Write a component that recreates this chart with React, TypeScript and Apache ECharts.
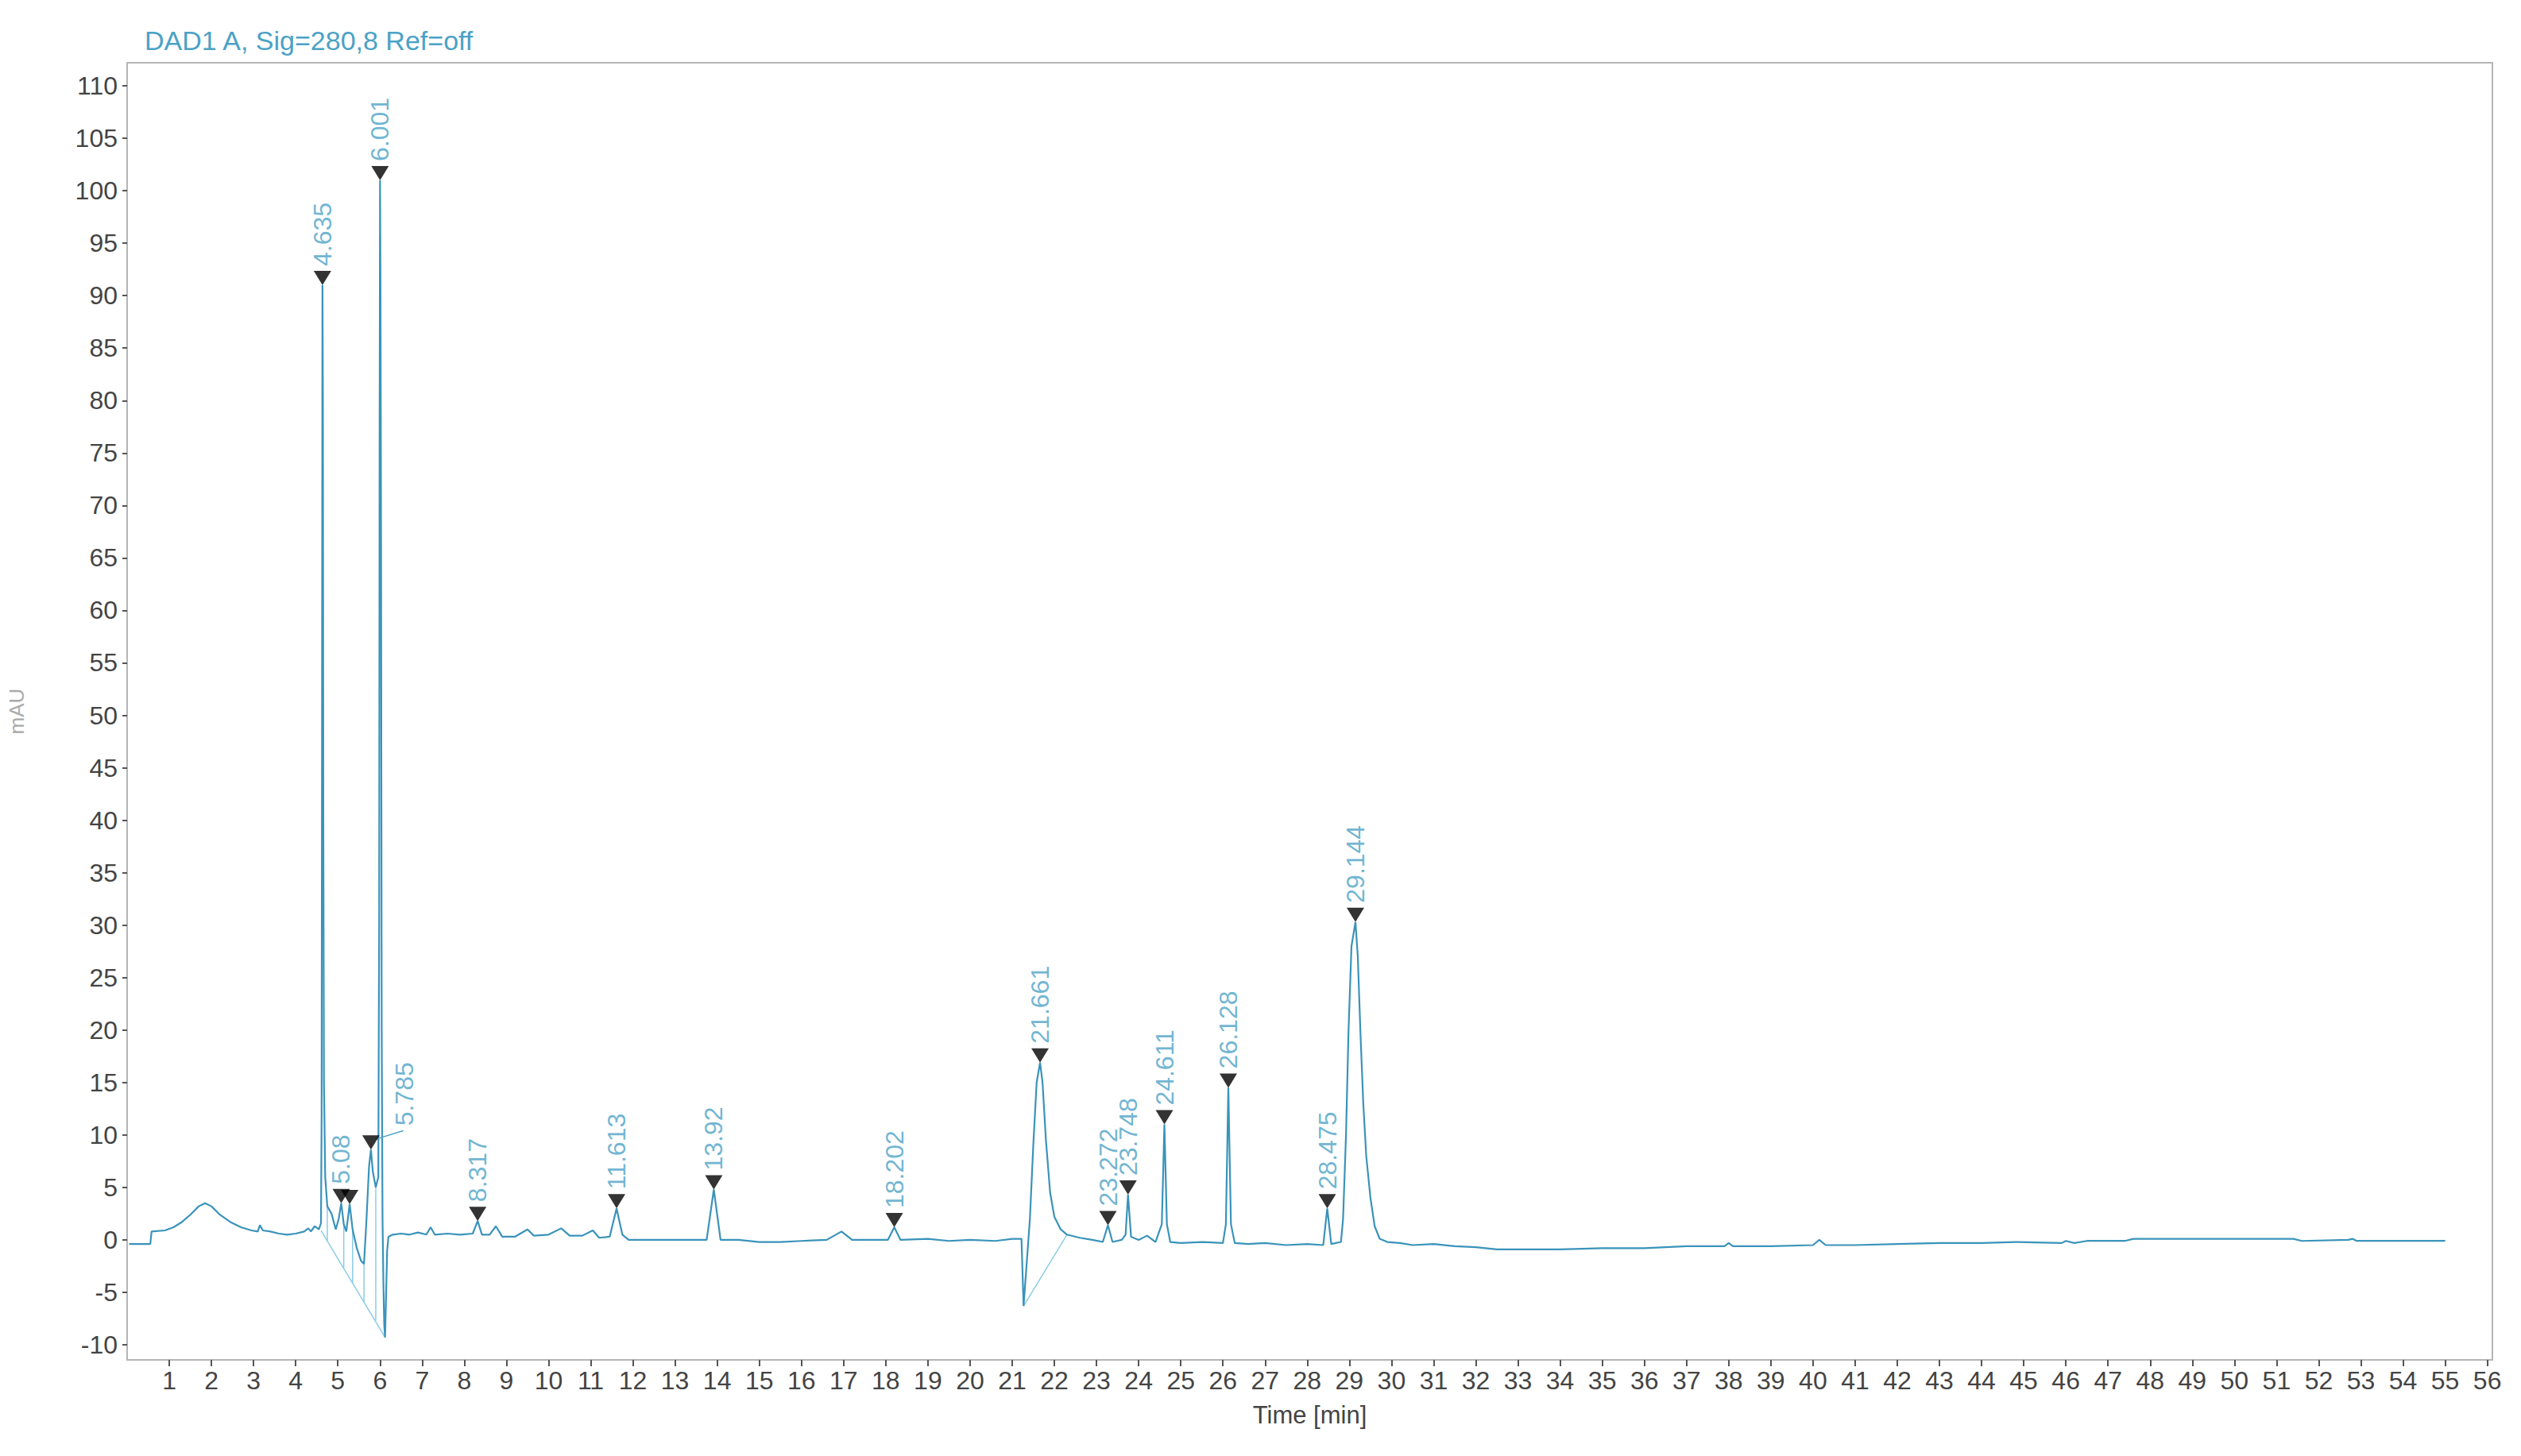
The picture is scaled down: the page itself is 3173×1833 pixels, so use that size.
import React, { useEffect, useRef } from "react";
import * as echarts from "echarts";

// ---- data ----
const xTicks = [1,2,3,4,5,6,7,8,9,10,11,12,13,14,15,16,17,18,19,20,21,22,23,24,25,26,27,28,29,30,31,32,33,34,35,36,37,38,39,40,41,42,43,44,45,46,47,48,49,50,51,52,53,54,55,56];
const yTicks = [-10,-5,0,5,10,15,20,25,30,35,40,45,50,55,60,65,70,75,80,85,90,95,100,105,110];

const signalStart: [number, number][] = [
  [0.05,-0.4],[0.3,-0.4],[0.55,-0.4],[0.58,0.8],[0.9,0.9],[1.1,1.2],[1.3,1.7],[1.5,2.4],[1.7,3.2],[1.85,3.5],[2.0,3.2],[2.2,2.4],[2.45,1.7],[2.7,1.2],[2.95,0.9],[3.1,0.8],[3.15,1.4],[3.22,0.9],[3.4,0.8],[3.6,0.6],[3.8,0.5],[4.0,0.6],[4.2,0.8],[4.3,1.1],[4.36,0.8],[4.45,1.3],[4.55,1.0],
];
const signalFront: [number, number][] = [
  [4.6,1.6],[4.615,12],[4.625,50],[4.635,91],[4.645,80],[4.655,40],[4.67,15],[4.7,6],[4.75,3.2],[4.85,2.5],[4.95,1.0],[5.02,2.0],[5.08,3.5],[5.14,1.5],[5.2,0.8],[5.28,3.4],[5.35,1.0],[5.45,-0.8],[5.55,-2.0],[5.62,-2.3],[5.68,2.0],[5.74,7.0],[5.785,8.6],[5.83,6.5],[5.9,5.0],[5.96,6],[5.98,30],[5.99,75],[6.001,101],[6.012,90],[6.025,66],[6.04,20],[6.06,2],[6.08,-4],[6.1,-8],[6.12,-9.3],[6.14,-6],[6.17,-1],[6.2,0.3],[6.3,0.5],
];
const signalMid: [number, number][] = [
  [6.5,0.6],[6.7,0.5],[6.9,0.7],[7.1,0.5],[7.2,1.2],[7.3,0.5],[7.6,0.6],[7.9,0.5],[8.2,0.6],[8.317,1.8],[8.42,0.5],[8.6,0.5],[8.75,1.3],[8.9,0.3],[9.2,0.3],[9.5,1.0],[9.65,0.4],[10.0,0.5],[10.3,1.1],[10.5,0.4],[10.8,0.4],[11.05,0.9],[11.2,0.2],[11.45,0.3],[11.613,3.0],[11.75,0.5],[11.9,0.0],[12.5,0.0],[13.0,0.0],[13.75,0.0],[13.92,4.8],[14.08,0.0],[14.5,0.0],[15.0,-0.2],[15.5,-0.2],[16.0,-0.1],[16.6,0.0],[16.95,0.8],[17.2,0.0],[17.6,0.0],[18.05,0.0],[18.202,1.2],[18.35,0.0],[19.0,0.1],[19.5,-0.1],[20.0,0.0],[20.6,-0.1],[21.0,0.1],[21.22,0.1],
];
const signalLate: [number, number][] = [
  [21.27,-6.3],[21.33,-3],[21.42,2],[21.5,9],[21.58,15],[21.661,16.9],[21.72,15],[21.8,9.5],[21.9,4.5],[22.0,2.2],[22.15,1.0],[22.3,0.5],[22.6,0.2],[22.9,0.0],[23.15,-0.2],[23.272,1.4],[23.38,-0.2],[23.6,0.0],[23.69,0.5],[23.748,4.3],[23.82,0.3],[24.0,0.0],[24.2,0.4],[24.4,-0.2],[24.55,1.5],[24.611,11.0],[24.67,1.5],[24.75,-0.2],[25.0,-0.3],[25.5,-0.2],[26.0,-0.3],[26.07,1.5],[26.128,14.5],[26.19,1.5],[26.28,-0.3],[26.6,-0.4],[27.0,-0.3],[27.5,-0.5],[28.0,-0.4],[28.38,-0.5],[28.475,3.0],[28.57,-0.4],[28.8,-0.2],[28.85,2],[28.92,10],[28.98,20],[29.05,28],[29.144,30.3],[29.2,27],[29.26,20],[29.33,13],[29.4,8],[29.5,4],[29.6,1.3],[29.72,0.1],[29.9,-0.2],[30.2,-0.3],
];
const signalTail: [number, number][] = [
  [30.5,-0.5],[31.0,-0.4],[31.5,-0.6],[32.0,-0.7],[32.5,-0.9],[33.0,-0.9],[34.0,-0.9],[35.0,-0.8],[36.0,-0.8],[37.0,-0.6],[37.9,-0.6],[38.0,-0.3],[38.1,-0.6],[39.0,-0.6],[40.0,-0.5],[40.15,0.0],[40.3,-0.5],[41.0,-0.5],[42.0,-0.4],[43.0,-0.3],[44.0,-0.3],[44.8,-0.2],[45.9,-0.3],[46.0,-0.1],[46.2,-0.3],[46.5,-0.1],[47.4,-0.1],[47.6,0.1],[51.4,0.1],[51.6,-0.1],[52.7,0.0],[52.8,0.1],[52.9,-0.1],[55.0,-0.1],
];

// integration baselines, drop lines and the 5.785 label leader
const baselineA: [number, number][] = [[4.6,0.9],[6.12,-9.3]];
const baselineB: [number, number][] = [[21.27,-6.3],[22.3,0.5]];
const dropTimes = [4.75, 5.14, 5.35, 5.62, 5.9];
const dropLow = [-0.1, -2.7, -4.1, -5.9, -7.7];
const dropHigh = [3.2, 1.5, 1.0, -2.3, 5.0];
const leader5785: [number, number][] = [[5.9,9.6],[6.55,10.4]];

// peak markers
const peakTimes = [4.635, 5.08, 5.28, 5.785, 6.001, 8.317, 11.613, 13.92, 18.202, 21.661, 23.272, 23.748, 24.611, 26.128, 28.475, 29.144];
const peakHeights = [91, 3.5, 3.4, 8.6, 101, 1.8, 3.0, 4.8, 1.2, 16.9, 1.4, 4.3, 11.0, 14.5, 3.0, 30.3];
const peakLabels = ["4.635", "5.08", "", "5.785", "6.001", "8.317", "11.613", "13.92", "18.202", "21.661", "23.272", "23.748", "24.611", "26.128", "28.475", "29.144"];

const TEAL = "#4ba2c6";
const LINE = "#3a93ba";
const LIGHT = "#8ccbe6";
const FONT = "'Liberation Sans', Arial, sans-serif";

export default function App() {
  const ref = useRef<HTMLDivElement>(null);
  useEffect(() => {
    if (!ref.current) return;
    const chart = echarts.init(ref.current, null, { renderer: "svg" });
    const signal = [...signalStart, ...signalFront, ...signalMid, ...signalLate, ...signalTail];
    const dropSeries = dropTimes.map((t, i) => ({
      type: "line",
      data: [[t, dropLow[i]], [t, dropHigh[i]]],
      showSymbol: false,
      silent: true,
      lineStyle: { color: LIGHT, width: 1.5 },
      z: 2,
    }));
    const movedIdx = peakLabels.indexOf("5.785");
    const markerData = peakTimes.map((t, i) =>
      i === movedIdx
        ? { value: [t, peakHeights[i]], label: { offset: [6, 42] } }
        : { value: [t, peakHeights[i]] }
    );
    chart.setOption({
      animation: false,
      backgroundColor: "#ffffff",
      title: {
        text: "DAD1 A, Sig=280,8 Ref=off",
        left: 182,
        top: 34,
        padding: 0,
        textStyle: { color: TEAL, fontSize: 34, fontWeight: "normal", fontFamily: FONT },
      },
      grid: {
        left: 160,
        right: 36,
        top: 79,
        bottom: 121,
        show: true,
        borderColor: "#b5b5b5",
        borderWidth: 2,
        backgroundColor: "#ffffff",
        outerBoundsMode: "none",
      },
      xAxis: {
        type: "value",
        min: 0,
        max: 56.12,
        name: "Time [min]",
        nameLocation: "middle",
        nameGap: 54,
        nameTextStyle: { color: "#444", fontSize: 31, fontFamily: FONT },
        axisLine: { show: false, onZero: false },
        axisTick: { show: true, length: 8, customValues: xTicks, lineStyle: { color: "#555", width: 2 } },
        axisLabel: { customValues: xTicks, color: "#444", fontSize: 32, fontFamily: FONT, margin: 10 },
        splitLine: { show: false },
      },
      yAxis: {
        type: "value",
        min: -11.44,
        max: 112.2,
        name: "mAU",
        nameLocation: "middle",
        nameRotate: 90,
        nameGap: 126,
        nameTextStyle: { color: "#aaaaaa", fontSize: 26, fontFamily: FONT },
        axisLine: { show: false, onZero: false },
        axisTick: { show: true, length: 6, customValues: yTicks, lineStyle: { color: "#555", width: 2 } },
        axisLabel: { customValues: yTicks, color: "#444", fontSize: 32, fontFamily: FONT, margin: 12 },
        splitLine: { show: false },
      },
      series: [
        {
          type: "line",
          data: baselineA,
          showSymbol: false,
          silent: true,
          lineStyle: { color: LIGHT, width: 1.5 },
          z: 2,
        },
        {
          type: "line",
          data: baselineB,
          showSymbol: false,
          silent: true,
          lineStyle: { color: LIGHT, width: 1.5 },
          z: 2,
        },
        ...dropSeries,
        {
          type: "line",
          data: leader5785,
          showSymbol: false,
          silent: true,
          lineStyle: { color: TEAL, width: 1.5 },
          z: 4,
        },
        {
          type: "line",
          data: signal,
          showSymbol: false,
          silent: true,
          lineStyle: { color: LINE, width: 2.2 },
          z: 3,
        },
        {
          type: "scatter",
          data: markerData,
          symbol: "triangle",
          symbolRotate: 180,
          symbolSize: [22, 18],
          symbolOffset: [0, -9],
          itemStyle: { color: "#000000" },
          z: 5,
          label: {
            show: true,
            position: "top",
            distance: 6,
            rotate: 90,
            align: "left",
            verticalAlign: "middle",
            color: TEAL,
            fontSize: 32,
            fontFamily: FONT,
            formatter: (p: any) => peakLabels[p.dataIndex],
          },
        },
      ],
    });
    return () => chart.dispose();
  }, []);
  return (
    <div
      ref={ref}
      style={{ position: "absolute", left: 0, top: 0, width: 3173, height: 1833, background: "#fff" }}
    />
  );
}
